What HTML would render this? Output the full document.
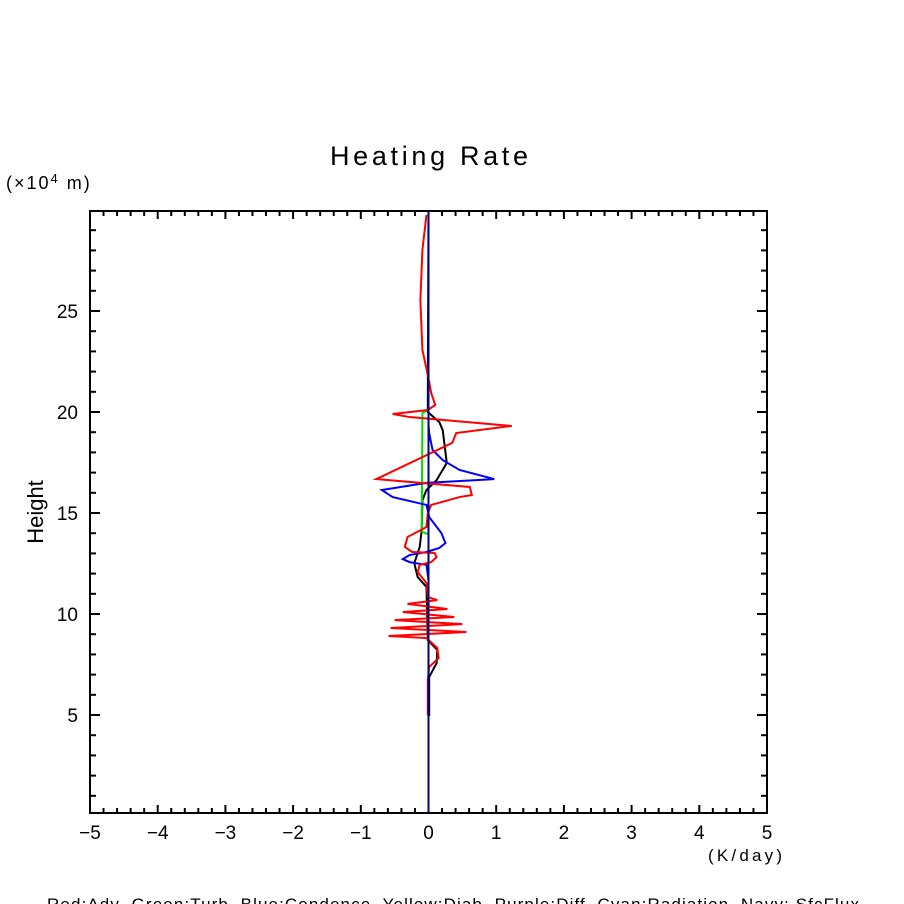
<!DOCTYPE html>
<html><head><meta charset="utf-8"><style>
html,body{margin:0;padding:0;background:#fff;width:904px;height:904px;overflow:hidden}
svg{display:block;font-family:"Liberation Sans",sans-serif}
</style></head><body>
<svg id="chart" width="904" height="904" viewBox="0 0 904 904">
<rect width="904" height="904" fill="#fff"/>
<text x="429" y="165" font-size="27" text-anchor="middle" fill="#000" textLength="198" lengthAdjust="spacing">Heating Rate</text>
<text x="6" y="189" font-size="18" fill="#000" letter-spacing="2">(×10<tspan dy="-6" font-size="13">4</tspan><tspan dy="6"> m)</tspan></text>
<text transform="translate(43,512) rotate(-90)" font-size="22" text-anchor="middle" fill="#000">Height</text>
<text x="708" y="861" font-size="17" fill="#000" textLength="74" lengthAdjust="spacing">(K/day)</text>
<text x="47" y="910" font-size="17" fill="#000" xml:space="preserve" textLength="812" lengthAdjust="spacing">Red:Adv  Green:Turb  Blue:Condence  Yellow:Diab  Purple:Diff  Cyan:Radiation  Navy: SfcFlux</text>
<g id="axes"></g>
<g id="series"></g>
</svg>
<script>
const xTicks=[-5,-4,-3,-2,-1,0,1,2,3,4,5];
const yTicks=[5,10,15,20,25];
const redAdv=[[-0.03,29.75],[-0.09,28.02],[-0.12,25.54],[-0.09,23.07],[-0.01,21.83],[0.04,20.94],[0.10,20.35],[-0.01,20.10],[-0.53,19.90],[-0.28,19.75],[1.23,19.31],[0.41,18.96],[0.35,18.47],[-0.77,16.68],[0.61,16.29],[0.64,15.89],[0.46,15.79],[0.04,15.40],[-0.01,15.00],[-0.03,14.31],[-0.31,13.81],[-0.35,13.32],[-0.24,13.07],[0.09,13.02],[0.12,12.82],[0.04,12.57],[-0.13,12.43],[-0.16,12.08],[-0.03,11.53],[-0.01,10.84],[0.13,10.69],[-0.31,10.50],[0.28,10.25],[-0.38,10.10],[0.38,9.85],[-0.50,9.70],[0.50,9.50],[-0.56,9.31],[0.56,9.11],[-0.59,8.91],[-0.03,8.81],[0.13,8.32],[0.15,7.82],[0.01,7.38],[-0.01,6.73],[-0.01,5.0]];
const blackTotal=[[0,29.95],[-0.01,20.84],[-0.01,20.0],[0.16,19.5],[0.21,19.1],[0.27,17.48],[0.12,16.63],[-0.03,16.14],[-0.09,15.64],[-0.10,14.16],[-0.13,13.32],[-0.21,12.52],[-0.16,11.83],[-0.03,11.34],[-0.01,8.71],[0.13,8.22],[0.12,7.57],[0.01,6.88],[0.01,4.95]];
const blueCond=[[0,29.95],[0,19.36],[0.01,18.96],[0.06,18.12],[0.21,17.62],[0.46,17.13],[0.97,16.68],[-0.03,16.49],[-0.69,16.14],[-0.53,15.79],[-0.03,15.40],[0.01,14.80],[0.19,14.01],[0.25,13.51],[0.16,13.27],[-0.03,13.07],[-0.28,12.92],[-0.38,12.72],[-0.28,12.57],[-0.03,12.43],[0,11.68],[0,0.15]];
const greenTurb=[[-0.01,20.1],[-0.09,19.95],[-0.10,14.31],[-0.09,14.06],[-0.01,13.96]];
const navySfc=[[0,0.15],[0,29.95]];

const X0=90,X1=767,Y0=211,Y1=813;
const xMin=-5,xMax=5,yMin=0.15,yMax=29.95;
const sx=v=>X0+(v-xMin)/(xMax-xMin)*(X1-X0);
const sy=v=>Y1-(v-yMin)/(yMax-yMin)*(Y1-Y0);
const NS='http://www.w3.org/2000/svg';
const axes=document.getElementById('axes');
const ser=document.getElementById('series');
function mk(t,a,p){const e=document.createElementNS(NS,t);for(const k in a)e.setAttribute(k,a[k]);p.appendChild(e);return e;}
const frame=mk('rect',{x:X0,y:Y0,width:X1-X0,height:Y1-Y0,fill:'none',stroke:'#000','stroke-width':2},axes);


for(let i=0;i<=50;i++){const v=xMin+i*0.2;const major=i%5===0;const L=major?8:5;const x=sx(v);
 const t1=mk('line',{x1:x,x2:x,y1:Y1,y2:Y1-L,stroke:'#000','stroke-width':2},axes);
 
 
 const t2=mk('line',{x1:x,x2:x,y1:Y0,y2:Y0+L,stroke:'#000','stroke-width':2},axes);
 
 }
xTicks.forEach(v=>{const t=mk('text',{x:sx(v),y:839,'font-size':19,'text-anchor':'middle',fill:'#000'},axes);t.textContent=(v<0?'\u2212'+(-v):String(v));
 
 });
for(let v=1;v<=29;v++){const major=v%5===0;const L=major?10:6;const y=sy(v);
 const t1=mk('line',{x1:X0,x2:X0+L,y1:y,y2:y,stroke:'#000','stroke-width':2},axes);
 
 
 const t2=mk('line',{x1:X1,x2:X1-L,y1:y,y2:y,stroke:'#000','stroke-width':2},axes);
 
 }
yTicks.forEach(v=>{const t=mk('text',{x:78,y:sy(v)+7,'font-size':19,'text-anchor':'end',fill:'#000'},axes);t.textContent=String(v);
 
 });
function line(data,color,name){const p=mk('polyline',{points:data.map(d=>sx(d[0])+','+sy(d[1])).join(' '),fill:'none',stroke:color,'stroke-width':2},ser);
 
 }
line(blackTotal,'#000','total-line');
line(greenTurb,'#00e000','turb-line');
line(blueCond,'#0000ff','condence-line');
line(redAdv,'#ff0000','adv-line');
line(navySfc,'#000080','sfcflux-line');
</script>
</body></html>
